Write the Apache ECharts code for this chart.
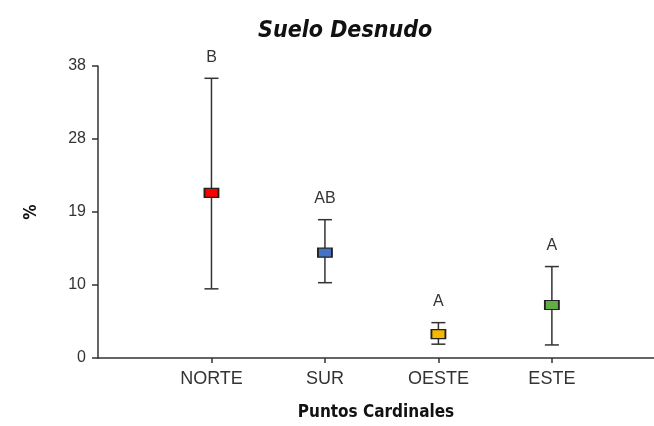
<!DOCTYPE html>
<html>
<head>
<meta charset="utf-8">
<script src="https://cdn.jsdelivr.net/npm/echarts@6/dist/echarts.min.js"></script>
<style>
  html, body { margin: 0; padding: 0; background: #ffffff; }
  #main { width: 654px; height: 426px; }
</style>
</head>
<body>
<div id="main"></div>
<script>
// categories and values
var categories = ['NORTE', 'SUR', 'OESTE', 'ESTE'];
var means = [21.5, 13.7, 3.1, 6.9];
var lower = [9.0, 9.8, 1.8, 1.7];
var upper = [36.4, 18.0, 4.6, 11.9];
var letters = ['B', 'AB', 'A', 'A'];
var yTickLabels = ['0', '10', '19', '28', '38'];
var markerColors = ['#ff0000', '#4472c4', '#f5b800', '#62ad45'];

function drawChart() {
    var myChart = echarts.init(document.getElementById('main'));

    var barData = categories.map(function (c, i) {
        return [i + 1, lower[i], upper[i]];
    });
    var meanData = categories.map(function (c, i) {
        return { value: [i + 1, means[i]], itemStyle: { color: markerColors[i] } };
    });

    var option = {
        backgroundColor: '#ffffff',
        animation: false,
        title: {
            text: 'Suelo Desnudo',
            left: 253,
            top: 15,
            textStyle: {
                color: '#111',
                fontFamily: 'DejaVu Sans Condensed',
                fontWeight: 'bold',
                fontStyle: 'italic',
                fontSize: 23
            }
        },
        grid: {
            left: 98,
            right: 0,
            top: 66,
            bottom: 66
        },
        xAxis: {
            type: 'value',
            min: 0,
            max: 4.9,
            interval: 1,
            name: 'Puntos Cardinales',
            nameLocation: 'middle',
            nameGap: 46,
            nameTextStyle: {
                color: '#111',
                fontFamily: 'DejaVu Sans Condensed',
                fontWeight: 'bold',
                fontSize: 17
            },
            splitLine: { show: false },
            axisLine: { show: true, onZero: false, lineStyle: { color: '#333', width: 1.5 } },
            axisTick: { show: true, length: 5, customValues: [1, 2, 3, 4], lineStyle: { color: '#333', width: 1.5 } },
            axisLabel: {
                customValues: [1, 2, 3, 4],
                margin: 12,
                color: '#333',
                fontFamily: 'Liberation Sans',
                fontSize: 18,
                formatter: function (v) {
                    return categories[Math.round(v) - 1] || '';
                }
            }
        },
        yAxis: {
            type: 'value',
            min: 0,
            max: 38,
            interval: 9.5,
            name: '%',
            nameLocation: 'middle',
            nameGap: 58,
            nameTextStyle: {
                color: '#111',
                fontFamily: 'DejaVu Sans Condensed',
                fontWeight: 'bold',
                fontSize: 17
            },
            splitLine: { show: false },
            axisLine: { show: true, lineStyle: { color: '#333', width: 1.5 } },
            axisTick: { show: true, length: 6, lineStyle: { color: '#333', width: 1.5 } },
            axisLabel: {
                margin: 12,
                color: '#333',
                fontFamily: 'Liberation Sans',
                fontSize: 16,
                formatter: function (v) {
                    return yTickLabels[Math.round(v / 9.5)];
                }
            }
        },
        series: [
            {
                name: 'error',
                type: 'custom',
                data: barData,
                z: 2,
                renderItem: function (params, api) {
                    var x = api.value(0);
                    var top = api.coord([x, api.value(2)]);
                    var bot = api.coord([x, api.value(1)]);
                    var w = 7;
                    var st = { stroke: '#333', lineWidth: 1.5 };
                    return {
                        type: 'group',
                        children: [
                            { type: 'line', shape: { x1: top[0], y1: top[1], x2: bot[0], y2: bot[1] }, style: st },
                            { type: 'line', shape: { x1: top[0] - w, y1: top[1], x2: top[0] + w, y2: top[1] }, style: st },
                            { type: 'line', shape: { x1: bot[0] - w, y1: bot[1], x2: bot[0] + w, y2: bot[1] }, style: st },
                            {
                                type: 'text',
                                x: top[0],
                                y: top[1] - 21,
                                style: {
                                    text: letters[params.dataIndex],
                                    fill: '#333',
                                    font: '16px "Liberation Sans"',
                                    textAlign: 'center',
                                    textVerticalAlign: 'middle'
                                }
                            }
                        ]
                    };
                }
            },
            {
                name: 'mean',
                type: 'scatter',
                symbol: 'rect',
                symbolSize: [14, 9],
                z: 3,
                itemStyle: { borderColor: '#222', borderWidth: 1.5, opacity: 1 },
                data: meanData
            }
        ]
    };

    myChart.setOption(option);
}

drawChart();
</script>
</body>
</html>
